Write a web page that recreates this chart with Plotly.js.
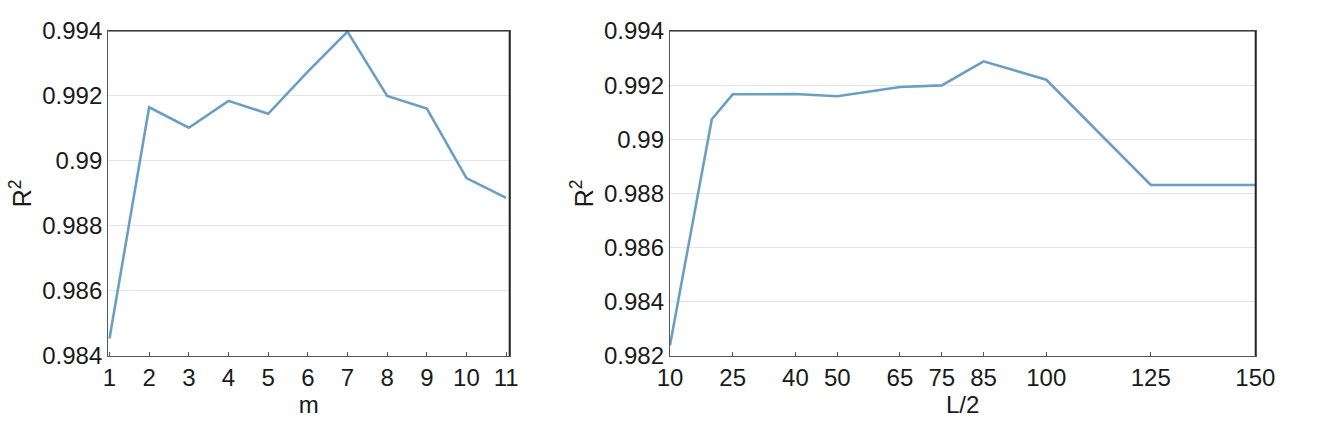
<!DOCTYPE html>
<html>
<head>
<meta charset="utf-8">
<script src="https://cdn.plot.ly/plotly-3.0.1.min.js"></script>
<style>
  html, body { margin: 0; padding: 0; background: #fff; }
  #chart { width: 1329px; height: 423px; }
</style>
</head>
<body>
<div id="chart"></div>
<script>
// Left panel: R^2 vs m
const mValues = [1, 2, 3, 4, 5, 6, 7, 8, 9, 10, 11];
const r2ByM = [0.98453, 0.99165, 0.99102, 0.99185, 0.99145, 0.99275, 0.99398, 0.99200, 0.99161, 0.98947, 0.98886];

// Right panel: R^2 vs L/2
const halfL = [10, 20, 25, 40, 50, 65, 75, 85, 100, 125, 150];
const r2ByHalfL = [0.98239, 0.99074, 0.99166, 0.99167, 0.99159, 0.99193, 0.99199, 0.99288, 0.99220, 0.98831, 0.98831];

// Tick labels
const leftXTicks = [1, 2, 3, 4, 5, 6, 7, 8, 9, 10, 11];
const rightXTicks = [10, 25, 40, 50, 65, 75, 85, 100, 125, 150];
const leftYTicks = [0.984, 0.986, 0.988, 0.990, 0.992, 0.994];
const leftYText = ['0.984', '0.986', '0.988', '0.99', '0.992', '0.994'];
const rightYTicks = [0.982, 0.984, 0.986, 0.988, 0.990, 0.992, 0.994];
const rightYText = ['0.982', '0.984', '0.986', '0.988', '0.99', '0.992', '0.994'];

const lineColor = '#6a9fc4';
const FONT = '"Liberation Sans", Arial, Helvetica, sans-serif';
const TXT = '#1a1a1a';

const traces = [
  { x: mValues, y: r2ByM, type: 'scatter', mode: 'lines', xaxis: 'x', yaxis: 'y',
    line: { color: lineColor, width: 2.6 }, hoverinfo: 'skip' },
  { x: halfL, y: r2ByHalfL, type: 'scatter', mode: 'lines', xaxis: 'x2', yaxis: 'y2',
    line: { color: lineColor, width: 2.6 }, hoverinfo: 'skip' }
];

const W = 1329, H = 423;
const yDom = [(H - 355.7) / H, (H - 31) / H];

function xAxis(domain, range, ticks, title, anchor) {
  return {
    domain: domain, range: range, anchor: anchor,
    tickmode: 'array', tickvals: ticks, ticktext: ticks.map(String),
    ticks: 'inside', ticklen: 4, tickwidth: 1, tickcolor: '#555',
    showline: true, linecolor: '#555', linewidth: 1.2, mirror: true,
    showgrid: false, zeroline: false,
    tickfont: { family: FONT, size: 24, color: TXT },
    title: { text: title, font: { family: FONT, size: 24, color: TXT }, standoff: 6 }
  };
}
function yAxis(range, ticks, text, anchor) {
  return {
    domain: yDom, range: range, anchor: anchor,
    tickmode: 'array', tickvals: ticks, ticktext: text,
    ticks: '', showline: true, linecolor: '#555', linewidth: 1.2, mirror: true,
    showgrid: true, gridcolor: '#e4e4e4', gridwidth: 1, zeroline: false,
    tickfont: { family: FONT, size: 24, color: TXT },
    title: { text: 'R<sup>2</sup>', font: { family: FONT, size: 25, color: TXT }, standoff: 3 }
  };
}

const layout = {
  width: W, height: H,
  margin: { l: 0, r: 0, t: 0, b: 0 },
  paper_bgcolor: '#fff', plot_bgcolor: '#fff',
  showlegend: false,
  xaxis: xAxis([108.3 / W, 509.3 / W], [0.97, 11.08], leftXTicks, 'm', 'y'),
  yaxis: yAxis([0.984, 0.994], leftYTicks, leftYText, 'x'),
  xaxis2: xAxis([670 / W, 1255.3 / W], [10, 150], rightXTicks, 'L/2', 'y2'),
  yaxis2: yAxis([0.982, 0.994], rightYTicks, rightYText, 'x2'),
  shapes: [
    { type: 'line', xref: 'x domain', yref: 'y domain', x0: 0, x1: 1, y0: 1, y1: 1, line: { color: '#222', width: 1.2 } },
    { type: 'line', xref: 'x domain', yref: 'y domain', x0: 1, x1: 1, y0: 0, y1: 1, line: { color: '#222', width: 1.2 } },
    { type: 'line', xref: 'x2 domain', yref: 'y2 domain', x0: 0, x1: 1, y0: 1, y1: 1, line: { color: '#222', width: 1.2 } },
    { type: 'line', xref: 'x2 domain', yref: 'y2 domain', x0: 1, x1: 1, y0: 0, y1: 1, line: { color: '#222', width: 1.2 } }
  ]
};

Plotly.newPlot('chart', traces, layout, { staticPlot: true, displayModeBar: false });
</script>
</body>
</html>
